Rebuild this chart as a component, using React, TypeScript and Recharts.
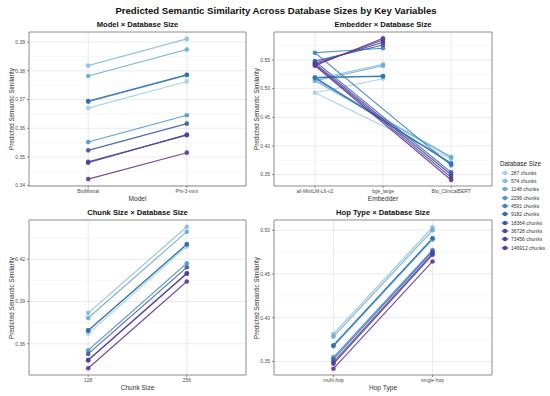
import React from 'react';
import { LineChart, Line, XAxis, YAxis, CartesianGrid, ReferenceArea } from 'recharts';

const dbSizes = ['287 chunks', '574 chunks', '1148 chunks', '2296 chunks', '4591 chunks', '9182 chunks', '18364 chunks', '36728 chunks', '73456 chunks', '146912 chunks'];
const seriesColors = ['#a3cde4', '#86bcdc', '#68a9d4', '#4d98cb', '#3a84c0', '#2d6fb2', '#3a5aa7', '#4547a0', '#533b99', '#643496'];

const modelCats = ['BioMistral', 'Phi-3-mini'];
const modelValues = [
  [0.3670, 0.3763],
  [0.3818, 0.3911],
  [0.3782, 0.3874],
  [0.3552, 0.3645],
  [0.3692, 0.3785],
  [0.3695, 0.3786],
  [0.3523, 0.3616],
  [0.3483, 0.3576],
  [0.3480, 0.3578],
  [0.3423, 0.3515],
];

const embedderCats = ['all-MiniLM-L6-v2', 'bge_large', 'Bio_ClinicalBERT'];
const embedderValues = [
  [0.4930, 0.5174, 0.3773],
  [0.5164, 0.5425, 0.3814],
  [0.5140, 0.5400, 0.3800],
  [0.5199, 0.5221, 0.3703],
  [0.5627, 0.5704, 0.3663],
  [0.5190, 0.5215, 0.3690],
  [0.5480, 0.5761, 0.3541],
  [0.5443, 0.5808, 0.3500],
  [0.5420, 0.5848, 0.3453],
  [0.5400, 0.5878, 0.3407],
];
const embedderPathOrder = [2, 0, 1];

const chunkCats = ['128', '256'];
const chunkValues = [
  [0.3672, 0.4290],
  [0.3818, 0.4431],
  [0.3783, 0.4396],
  [0.3554, 0.4172],
  [0.3695, 0.4308],
  [0.3693, 0.4305],
  [0.3528, 0.4143],
  [0.3485, 0.4101],
  [0.3482, 0.4098],
  [0.3426, 0.4042],
];

const hopCats = ['multi-hop', 'single-hop'];
const hopValues = [
  [0.3670, 0.4890],
  [0.3814, 0.5034],
  [0.3784, 0.5000],
  [0.3549, 0.4775],
  [0.3686, 0.4910],
  [0.3680, 0.4905],
  [0.3526, 0.4760],
  [0.3492, 0.4735],
  [0.3473, 0.4720],
  [0.3417, 0.4644],
];

const FONT = "'Liberation Sans', Arial, Helvetica, sans-serif";

type PanelProps = {
  title: string;
  xTitle: string;
  cats: string[];
  values: number[][];
  order?: number[];
  domain: [number, number];
  majors: number[];
  minors: number[];
  plot: { l: number; r: number; t: number; b: number };
};

const YW = 29;
const MT = 6;
const MR = 4;
const XH = 14;

function Panel({ title, xTitle, cats, values, order, domain, majors, minors, plot }: PanelProps) {
  const n = cats.length;
  const idx = order ?? cats.map((_, j) => j);
  const plotW = plot.r - plot.l;
  const plotH = plot.b - plot.t;
  const width = YW + plotW + MR;
  const height = MT + plotH + XH;
  const catTicks = cats.map((_, j) => j + 1);
  const cx = (plot.l + plot.r) / 2;
  const cy = (plot.t + plot.b) / 2;
  return (
    <>
      <div style={{ position: 'absolute', left: cx, top: plot.t - 8, transform: 'translate(-50%,-50%)', fontFamily: FONT, fontWeight: 'bold', fontSize: 7.6, color: '#111', whiteSpace: 'nowrap' }}>{title}</div>
      <div style={{ position: 'absolute', left: plot.l - 18, top: cy, transform: 'translate(-50%,-50%) rotate(-90deg)', fontFamily: FONT, fontSize: 6.3, color: '#333', whiteSpace: 'nowrap' }}>Predicted Semantic Similarity</div>
      <div style={{ position: 'absolute', left: cx, top: plot.b + 12, transform: 'translate(-50%,-50%)', fontFamily: FONT, fontSize: 6.6, color: '#333', whiteSpace: 'nowrap' }}>{xTitle}</div>
      <div style={{ position: 'absolute', left: plot.l - YW, top: plot.t - MT }}>
        <LineChart width={width} height={height} margin={{ top: MT, right: MR, left: 0, bottom: 0 }}>
          <CartesianGrid horizontalValues={minors} vertical={false} stroke="#f2f2f2" strokeWidth={0.6} />
          <CartesianGrid horizontalValues={majors} verticalValues={catTicks} stroke="#e6e6e6" strokeWidth={0.8} />
          <XAxis
            type="number"
            dataKey="x"
            domain={[0.4, n + 0.6]}
            ticks={catTicks}
            tickFormatter={(v: number) => cats[v - 1] ?? ''}
            allowDataOverflow
            height={XH}
            axisLine={false}
            tickSize={2}
            tickMargin={1}
            tickLine={{ stroke: '#444', strokeWidth: 0.6 }}
            tick={{ fontSize: 5, fill: '#4d4d4d', fontFamily: FONT }}
            interval={0}
          />
          <YAxis
            type="number"
            domain={domain}
            ticks={majors}
            allowDataOverflow
            width={YW}
            axisLine={false}
            tickSize={2}
            tickMargin={2}
            tickLine={{ stroke: '#444', strokeWidth: 0.6 }}
            tick={{ fontSize: 5, fill: '#4d4d4d', fontFamily: FONT }}
            tickFormatter={(v: number) => v.toFixed(2)}
            interval={0}
          />
          {values.map((vals, i) => (
            <Line
              key={dbSizes[i]}
              data={idx.map((j) => ({ x: j + 1, y: vals[j] }))}
              dataKey="y"
              type="linear"
              stroke={seriesColors[i]}
              strokeWidth={1.1}
              strokeOpacity={0.9}
              dot={{ r: 2.3, fill: seriesColors[i], stroke: seriesColors[i], strokeWidth: 0, fillOpacity: 0.9 }}
              activeDot={false}
              isAnimationActive={false}
            />
          ))}
          <ReferenceArea x1={0.4} x2={n + 0.6} y1={domain[0]} y2={domain[1]} fill="none" stroke="#7f7f7f" strokeWidth={0.9} ifOverflow="visible" />
        </LineChart>
      </div>
    </>
  );
}

export default function App() {
  return (
    <div style={{ position: 'absolute', left: 0, top: 0, width: 550, height: 396, background: '#fff', overflow: 'hidden' }}>
      <div style={{ position: 'absolute', left: 276, top: 10, transform: 'translate(-50%,-50%)', fontFamily: FONT, fontWeight: 'bold', fontSize: 9.6, color: '#111', whiteSpace: 'nowrap' }}>
        Predicted Semantic Similarity Across Database Sizes by Key Variables
      </div>
      <Panel
        title="Model × Database Size"
        xTitle="Model"
        cats={modelCats}
        values={modelValues}
        domain={[0.3399, 0.3935]}
        majors={[0.34, 0.35, 0.36, 0.37, 0.38, 0.39]}
        minors={[0.345, 0.355, 0.365, 0.375, 0.385]}
        plot={{ l: 29, r: 246, t: 32, b: 186 }}
      />
      <Panel
        title="Embedder × Database Size"
        xTitle="Embedder"
        cats={embedderCats}
        values={embedderValues}
        order={embedderPathOrder}
        domain={[0.3303, 0.5988]}
        majors={[0.35, 0.4, 0.45, 0.5, 0.55]}
        minors={[0.375, 0.425, 0.475, 0.525, 0.575]}
        plot={{ l: 274, r: 492, t: 32, b: 186 }}
      />
      <Panel
        title="Chunk Size × Database Size"
        xTitle="Chunk Size"
        cats={chunkCats}
        values={chunkValues}
        domain={[0.3378, 0.4479]}
        majors={[0.36, 0.39, 0.42]}
        minors={[0.345, 0.375, 0.405, 0.435]}
        plot={{ l: 29, r: 246, t: 220, b: 375 }}
      />
      <Panel
        title="Hop Type × Database Size"
        xTitle="Hop Type"
        cats={hopCats}
        values={hopValues}
        domain={[0.3345, 0.5118]}
        majors={[0.35, 0.4, 0.45, 0.5]}
        minors={[0.375, 0.425, 0.475]}
        plot={{ l: 274, r: 492, t: 220, b: 375 }}
      />
      <div style={{ position: 'absolute', left: 500, top: 163, transform: 'translateY(-50%)', fontFamily: FONT, fontSize: 6.3, color: '#222', whiteSpace: 'nowrap' }}>Database Size</div>
      {dbSizes.map((label, i) => (
        <div key={label} style={{ position: 'absolute', left: 501, top: 172.7 + i * 8.33, transform: 'translateY(-50%)', display: 'flex', alignItems: 'center', whiteSpace: 'nowrap' }}>
          <svg width={8} height={6} style={{ display: 'block' }}>
            <line x1={0.5} y1={3} x2={7.5} y2={3} stroke={seriesColors[i]} strokeWidth={1.1} />
            <circle cx={4} cy={3} r={2.2} fill={seriesColors[i]} />
          </svg>
          <span style={{ marginLeft: 2, fontFamily: FONT, fontSize: 5, color: '#333' }}>{label}</span>
        </div>
      ))}
    </div>
  );
}
